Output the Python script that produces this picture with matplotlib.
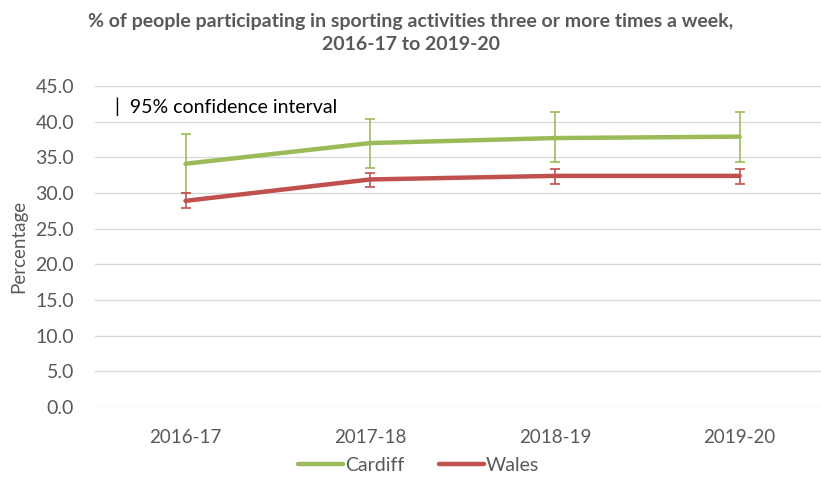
import numpy as np
import matplotlib.pyplot as plt

# Data
years = ["2016-17", "2017-18", "2018-19", "2019-20"]
cardiff = [34.1, 37.0, 37.7, 37.9]
cardiff_low = [30.0, 33.5, 34.4, 34.4]
cardiff_high = [38.3, 40.4, 41.4, 41.3]
wales = [28.9, 31.9, 32.4, 32.4]
wales_low = [27.9, 30.9, 31.3, 31.2]
wales_high = [30.0, 32.8, 33.4, 33.3]
yticks = np.arange(0, 46, 5)

plt.rcParams['font.family'] = ['Lato', 'DejaVu Sans']
grey = '#595959'
green = '#9BBB59'
red = '#C0504D'

fig = plt.figure(figsize=(8.21, 4.9), dpi=100)
ax = fig.add_axes([0.1157, 0.1694, 0.8843, 0.6551])

x = np.arange(len(years))

def draw(vals, lo, hi, color, label):
    vals = np.array(vals)
    err = [vals - np.array(lo), np.array(hi) - vals]
    ax.errorbar(x, vals, yerr=err, fmt='none', ecolor=color, elinewidth=1.2,
                capsize=3.5, capthick=1.2, zorder=3)
    ax.plot(x, vals, color=color, lw=3.2, label=label, zorder=4,
            solid_capstyle='round')

draw(cardiff, cardiff_low, cardiff_high, green, "Cardiff")
draw(wales, wales_low, wales_high, red, "Wales")

ax.set_ylim(0, 45)
ax.set_xlim(-0.49, 3.44)
ax.set_yticks(yticks)
ax.set_yticklabels([f"{v:.1f}" for v in yticks], fontsize=14, color=grey)
ax.set_xticks(x)
ax.set_xticklabels(years, fontsize=13.5, color=grey)
ax.tick_params(length=0)
ax.tick_params(axis='x', pad=16)
ax.tick_params(axis='y', pad=15)
ax.grid(axis='y', color='#D9D9D9', lw=1)
ax.set_axisbelow(True)
for s in ax.spines.values():
    s.set_visible(False)

ax.set_ylabel("Percentage", fontsize=13.5, color=grey, labelpad=6)

ax.text(0.028, 0.935, "|  95% confidence interval", transform=ax.transAxes,
        fontsize=14, color='black', va='center', ha='left')

fig.text(0.5, 0.933, "% of people participating in sporting activities three or more times a week,\n2016-17 to 2019-20",
         ha='center', va='center', fontsize=14, fontweight='bold', color=grey,
         linespacing=1.4)

fig.legend(loc='center', bbox_to_anchor=(0.51, 0.05), ncol=2, frameon=False,
           fontsize=14, labelcolor=grey, handlelength=2.3, handletextpad=0.1,
           columnspacing=1.8)

fig.savefig("out.png", dpi=100)
